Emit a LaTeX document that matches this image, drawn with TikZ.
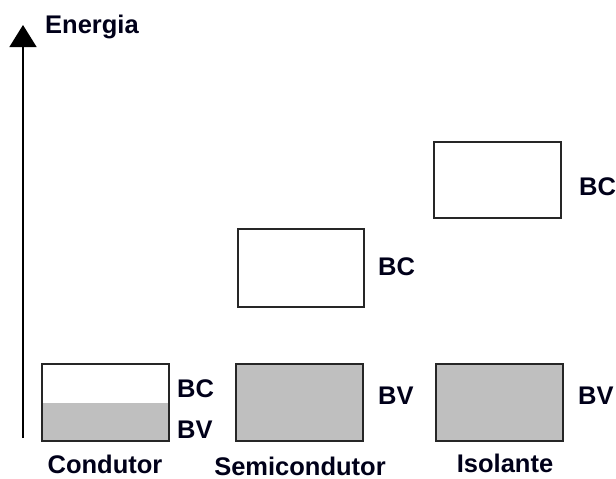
\documentclass[tikz,border=0pt]{standalone}
\usepackage{fontspec}
\setmainfont{Liberation Sans}
\usetikzlibrary{arrows.meta}
\begin{document}
\begin{tikzpicture}[x=1pt,y=-1pt,
  band/.style={draw=black!85,line width=1.6pt},
  filled/.style={band,fill=black!25},
  lbl/.style={inner sep=0pt,font=\fontsize{25.5}{30}\selectfont\bfseries,text=black!90!blue}]
\useasboundingbox (0,0) rectangle (616,479);
% energy axis
\coordinate (axb) at (23,438);
\coordinate (axt) at (23,25);
\draw[line width=1.4pt,-{Triangle[width=27pt,length=22pt]}] (axb) -- (axt);
\node[lbl,anchor=base west] (en) at (45,33) {Energia};
% conductor: partly filled band
\fill[black!25] (42,403) rectangle (169,441);
\draw[band] (42,364) rectangle (169,441);
\node[lbl,anchor=base west] (cbc) at (177,397) {BC};
\node[lbl,anchor=base west] (cbv) at (177,438) {BV};
\node[lbl,anchor=base] (cond) at (105,473) {Condutor};
% semiconductor
\draw[band] (238,229) rectangle (364,307);
\draw[filled] (236,364) rectangle (363,441);
\node[lbl,anchor=base west] (sbc) at (378,275) {BC};
\node[lbl,anchor=base west] (sbv) at (378,404) {BV};
\node[lbl,anchor=base] (semi) at (300,475) {Semicondutor};
% insulator
\draw[band] (434,142) rectangle (561,218);
\draw[filled] (436,364) rectangle (563,441);
\node[lbl,anchor=base west] (ibc) at (579,195) {BC};
\node[lbl,anchor=base west] (ibv) at (578,404) {BV};
\node[lbl,anchor=base] (iso) at (505,472) {Isolante};
\end{tikzpicture}
\end{document}
